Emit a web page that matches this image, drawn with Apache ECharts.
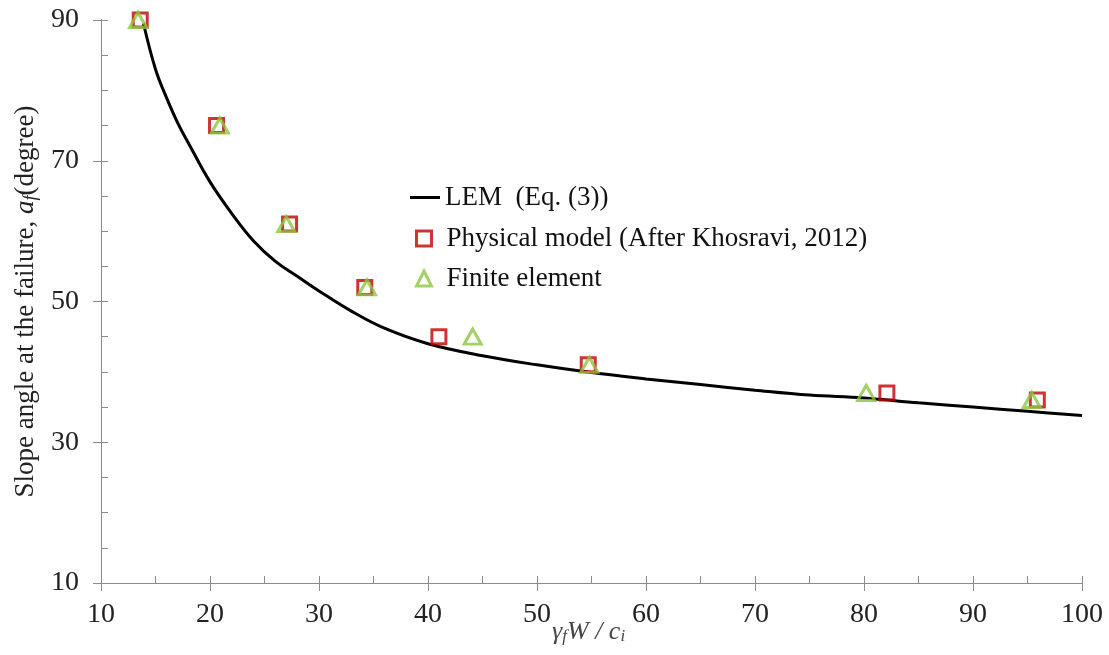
<!DOCTYPE html>
<html>
<head>
<meta charset="utf-8">
<script src="https://cdn.jsdelivr.net/npm/echarts@6/dist/echarts.min.js"></script>
<style>
html,body{margin:0;padding:0;background:#fff;}
#chart{width:1109px;height:655px;}
</style>
</head>
<body>
<div id="chart"></div>
<script>
// LEM (Eq. (3)) curve
const lemX = [13.9, 15, 16, 17, 18.2, 20, 22, 24, 26, 28, 30, 33, 36, 40, 45, 50, 55, 60, 65, 70, 75, 80, 85, 90, 95, 100];
const lemY = [89.5, 83, 79, 75.5, 72, 67, 62.5, 58.6, 55.7, 53.6, 51.5, 48.6, 46.2, 44, 42.3, 41, 39.9, 39, 38.2, 37.4, 36.7, 36.3, 35.6, 35, 34.4, 33.8];
// Physical model (After Khosravi, 2012)
const physX = [13.6, 20.6, 27.3, 34.2, 41.0, 54.7, 82.1, 95.9];
const physY = [90, 75, 61, 52, 45, 41, 37, 36];
// Finite element
const feX = [13.4, 20.9, 27.0, 34.4, 44.1, 54.8, 80.2, 95.4];
const feY = [90, 75, 61, 52, 45, 41, 37, 36];

const xTicks = [10, 20, 30, 40, 50, 60, 70, 80, 90, 100];
const yTicks = [10, 30, 50, 70, 90];

const nameLEM = 'LEM  (Eq. (3))';
const namePhys = 'Physical model (After Khosravi, 2012)';
const nameFE = 'Finite element';
const xTitle = '{v|γ}{s|f}{v|W / c}{s|i}';
const yTitle = 'Slope angle at the failure, {i|a}{s|f}(degree)';

const zip = (a, b) => a.map((v, i) => [v, b[i]]);
const serif = '"Liberation Serif", "Times New Roman", serif';
const axisColor = '#8c8c8c';
const legendText = {fontFamily: serif, fontSize: 27, color: '#111'};

const chart = echarts.init(document.getElementById('chart'), null, {renderer: 'canvas'});
chart.setOption({
  animation: false,
  backgroundColor: '#fff',
  textStyle: {fontFamily: serif},
  grid: {left: 101, right: 27, top: 20, bottom: 72, containLabel: false, outerBoundsMode: 'none'},
  legend: [{
    orient: 'vertical',
    left: 405,
    top: 179,
    itemWidth: 30,
    itemHeight: 3,
    textStyle: legendText,
    data: [{name: nameLEM, icon: 'rect'}]
  }, {
    orient: 'vertical',
    left: 410,
    top: 220,
    itemWidth: 15,
    itemHeight: 15,
    itemGap: 13,
    itemStyle: {borderWidth: 3},
    textStyle: Object.assign({padding: [0, 0, 0, 10]}, legendText),
    data: [{name: namePhys, icon: 'rect'}, {name: nameFE, icon: 'triangle'}]
  }],
  graphic: [{
    type: 'text',
    left: 552,
    top: 617,
    silent: true,
    style: {
      text: xTitle,
      rich: {
        v: {fontFamily: serif, fontStyle: 'italic', fontSize: 26, fill: '#444', lineHeight: 30, verticalAlign: 'bottom'},
        s: {fontFamily: serif, fontStyle: 'italic', fontSize: 17, fill: '#444', lineHeight: 30, verticalAlign: 'bottom', padding: [11, 0, 0, 0]}
      }
    }
  }],
  xAxis: [{
    type: 'value', min: xTicks[0], max: xTicks[xTicks.length - 1], interval: 10,
    axisLine: {show: true, lineStyle: {color: axisColor, width: 1}},
    axisTick: {show: true, inside: false, length: 8, lineStyle: {color: axisColor}},
    axisLabel: {fontFamily: serif, fontSize: 28, color: '#222', margin: 18},
    splitLine: {show: false}
  }, {
    type: 'value', min: xTicks[0], max: xTicks[xTicks.length - 1], interval: 10, position: 'bottom',
    axisLine: {show: true, lineStyle: {color: axisColor, width: 1}},
    axisTick: {show: true, inside: true, length: 7, lineStyle: {color: axisColor}},
    minorTick: {show: true, splitNumber: 2, length: 7, lineStyle: {color: axisColor}},
    axisLabel: {show: false},
    splitLine: {show: false}
  }],
  yAxis: [{
    type: 'value', min: yTicks[0], max: yTicks[yTicks.length - 1], interval: 20,
    axisLine: {show: true, lineStyle: {color: axisColor, width: 1}},
    axisTick: {show: true, inside: false, length: 8, lineStyle: {color: axisColor}},
    axisLabel: {fontFamily: serif, fontSize: 28, color: '#222', margin: 22},
    splitLine: {show: false},
    name: yTitle,
    nameLocation: 'middle',
    nameGap: 57,
    nameTextStyle: {
      fontFamily: serif, fontSize: 27, color: '#222',
      rich: {
        i: {fontFamily: serif, fontStyle: 'italic', fontSize: 27, color: '#222'},
        s: {fontFamily: serif, fontStyle: 'italic', fontSize: 18, color: '#222', padding: [10, 0, 0, 0]}
      }
    }
  }, {
    type: 'value', min: yTicks[0], max: yTicks[yTicks.length - 1], interval: 20, position: 'left',
    axisLine: {show: true, lineStyle: {color: axisColor, width: 1}},
    axisTick: {show: true, inside: true, length: 7, lineStyle: {color: axisColor}},
    minorTick: {show: true, splitNumber: 4, length: 7, lineStyle: {color: axisColor}},
    axisLabel: {show: false},
    splitLine: {show: false}
  }],
  series: [{
    name: nameLEM,
    type: 'line',
    xAxisIndex: 0, yAxisIndex: 0,
    data: zip(lemX, lemY),
    smooth: 0.4,
    symbol: 'none',
    showSymbol: false,
    lineStyle: {color: '#000', width: 3},
    itemStyle: {color: '#000'},
    z: 2
  }, {
    name: namePhys,
    type: 'scatter',
    xAxisIndex: 0, yAxisIndex: 0,
    data: zip(physX, physY),
    symbol: 'rect',
    symbolSize: 14,
    itemStyle: {color: 'rgba(255,255,255,0)', borderColor: '#c00000', borderWidth: 3},
    z: 3
  }, {
    name: nameFE,
    type: 'scatter',
    xAxisIndex: 0, yAxisIndex: 0,
    data: zip(feX, feY),
    symbol: 'triangle',
    symbolSize: [17, 15],
    itemStyle: {color: 'rgba(255,255,255,0)', borderColor: '#8cc63f', borderWidth: 3},
    z: 4
  }]
});
</script>
</body>
</html>
